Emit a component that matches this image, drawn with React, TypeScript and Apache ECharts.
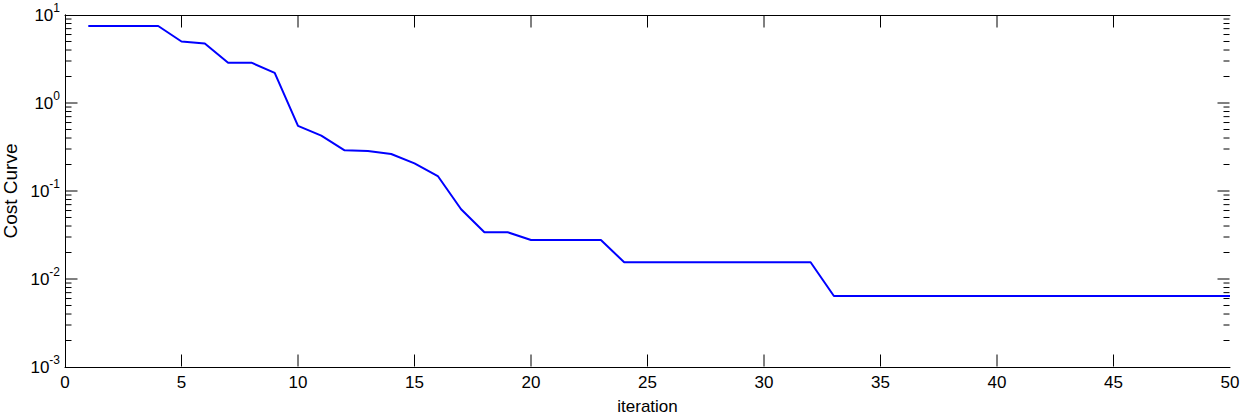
import React, { useEffect, useRef } from "react";
import * as echarts from "echarts";

const iterations: number[] = [
  1, 2, 3, 4, 5, 6, 7, 8, 9, 10, 11, 12, 13, 14, 15, 16, 17, 18, 19, 20, 21, 22, 23, 24, 25,
  26, 27, 28, 29, 30, 31, 32, 33, 34, 35, 36, 37, 38, 39, 40, 41, 42, 43, 44, 45, 46, 47, 48, 49, 50,
];
const cost: number[] = [
  7.5, 7.5, 7.5, 7.5, 5.0, 4.75, 2.87, 2.87, 2.2, 0.55,
  0.425, 0.29, 0.285, 0.263, 0.206, 0.148, 0.062, 0.034, 0.034, 0.0277,
  0.0277, 0.0277, 0.0277, 0.0155, 0.0155, 0.0155, 0.0155, 0.0155, 0.0155, 0.0155,
  0.0155, 0.0155, 0.0064, 0.0064, 0.0064, 0.0064, 0.0064, 0.0064, 0.0064, 0.0064,
  0.0064, 0.0064, 0.0064, 0.0064, 0.0064, 0.0064, 0.0064, 0.0064, 0.0064, 0.0064,
];
const xTicks = { min: 0, max: 50, interval: 5 };
const xMajorTicks: number[] = [5, 10, 15, 20, 25, 30, 35, 40, 45];
const yRange = { min: 0.001, max: 10 };
const yMajorTicks: number[] = [0.01, 0.1, 1];
const decades: number[] = [0.001, 0.01, 0.1, 1];
const minorMultipliers: number[] = [2, 3, 4, 5, 6, 7, 8, 9];

const FONT = "'Liberation Sans', Arial, Helvetica, sans-serif";
const MAJOR = 12;
const MINOR = 6;

export default function App() {
  const ref = useRef<HTMLDivElement>(null);
  useEffect(() => {
    if (!ref.current) return;
    const chart = echarts.init(ref.current, null, { renderer: "svg" });
    const yTicks: { v: number; len: number }[] = [];
    decades.forEach((d) => minorMultipliers.forEach((m) => yTicks.push({ v: d * m, len: MINOR })));
    yMajorTicks.forEach((v) => yTicks.push({ v, len: MAJOR }));

    const axisLine = { show: true, lineStyle: { color: "#000", width: 1 } };
    const seg = (x1: number, y1: number, x2: number, y2: number) => ({
      type: "line",
      shape: { x1, y1, x2, y2 },
      style: { stroke: "#000", lineWidth: 1 },
    });
    const option: any = {
      animation: false,
      backgroundColor: "#fff",
      grid: {
        left: 65,
        right: 11,
        top: 15,
        bottom: 48,
        containLabel: false,
        outerBoundsMode: "none",
      },
      xAxis: [
        {
          type: "value",
          position: "bottom",
          min: xTicks.min,
          max: xTicks.max,
          interval: xTicks.interval,
          name: "iteration",
          nameLocation: "middle",
          nameGap: 31,
          nameTextStyle: { color: "#000", fontSize: 17, fontFamily: FONT },
          axisLine,
          axisTick: { show: false },
          axisLabel: { color: "#000", fontSize: 17, fontFamily: FONT, margin: 7 },
          splitLine: { show: false },
        },
        {
          type: "value",
          position: "top",
          min: xTicks.min,
          max: xTicks.max,
          interval: xTicks.interval,
          axisLine,
          axisTick: { show: false },
          axisLabel: { show: false },
          splitLine: { show: false },
        },
      ],
      yAxis: [
        {
          type: "log",
          logBase: 10,
          position: "left",
          min: yRange.min,
          max: yRange.max,
          splitNumber: 4,
          name: "Cost Curve",
          nameLocation: "middle",
          nameGap: 42,
          nameTextStyle: { color: "#000", fontSize: 19, fontFamily: FONT },
          axisLine,
          axisTick: { show: false },
          axisLabel: {
            color: "#000",
            fontFamily: FONT,
            margin: 5,
            formatter: (v: number) => `{b|10}{e|${Math.round(Math.log10(v))}}`,
            rich: {
              b: { fontSize: 17, fontFamily: FONT, color: "#000" },
              e: { fontSize: 12, fontFamily: FONT, color: "#000", padding: [0, 0, 14, 0] },
            },
          },
          splitLine: { show: false },
        },
        {
          type: "log",
          logBase: 10,
          position: "right",
          min: yRange.min,
          max: yRange.max,
          splitNumber: 4,
          axisLine,
          axisTick: { show: false },
          axisLabel: { show: false },
          splitLine: { show: false },
        },
      ],
      series: [
        {
          type: "custom",
          coordinateSystem: "cartesian2d",
          xAxisIndex: 0,
          yAxisIndex: 0,
          silent: true,
          clip: false,
          z: 5,
          data: [[25, 1]],
          renderItem: (params: any, api: any) => {
            const cs = params.coordSys;
            const left = cs.x;
            const right = cs.x + cs.width;
            const top = cs.y;
            const bottom = cs.y + cs.height;
            const children: any[] = [];
            yTicks.forEach((t) => {
              const y = api.coord([25, t.v])[1];
              children.push(seg(left + 0.5, y, left + 0.5 + t.len, y));
              children.push(seg(right - 0.5, y, right - 0.5 - t.len, y));
            });
            xMajorTicks.forEach((xv) => {
              const x = api.coord([xv, 1])[0];
              children.push(seg(x, bottom - 0.5, x, bottom - 0.5 - MAJOR));
              children.push(seg(x, top + 0.5, x, top + 0.5 + MAJOR));
            });
            return { type: "group", children };
          },
        },
        {
          type: "line",
          xAxisIndex: 0,
          yAxisIndex: 0,
          data: iterations.map((x, i) => [x, cost[i]]),
          showSymbol: false,
          symbol: "none",
          lineStyle: { color: "#0000ff", width: 2 },
          itemStyle: { color: "#0000ff" },
          z: 3,
        },
      ],
    };
    chart.setOption(option);
    return () => chart.dispose();
  }, []);
  return (
    <div
      ref={ref}
      style={{ position: "fixed", left: 0, top: 0, width: 1241, height: 415, background: "#fff" }}
    />
  );
}
